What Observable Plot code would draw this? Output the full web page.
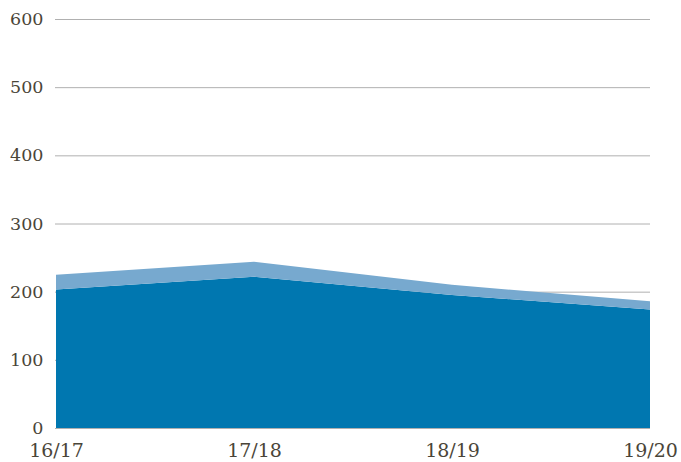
<!DOCTYPE html>
<html>
<head>
<meta charset="utf-8">
<script src="https://cdn.jsdelivr.net/npm/d3@7"></script>
<script src="https://cdn.jsdelivr.net/npm/@observablehq/plot@0.6"></script>
<style>
  body { margin: 0; background: #fff; }
  svg { font-family: "DejaVu Serif", "Liberation Serif", serif; }
</style>
</head>
<body>
<div id="chart"></div>
<script>
const years = ["16/17", "17/18", "18/19", "19/20"];
const seriesNames = ["A", "B"];
const seriesA = [203, 222, 195, 174];
const seriesB = [22, 22, 15, 12];
const yTicks = [0, 100, 200, 300, 400, 500, 600];
const colors = ["#0077b0", "#77a9cf"];

const data = [];
years.forEach((y, i) => {
  data.push({year: y, series: seriesNames[0], value: seriesA[i]});
  data.push({year: y, series: seriesNames[1], value: seriesB[i]});
});

const chart = Plot.plot({
  width: 681,
  height: 462,
  marginLeft: 55,
  marginRight: 31,
  marginTop: 19,
  marginBottom: 34,
  style: {fontSize: "17px", color: "#4a4538", background: "#fff"},
  x: {type: "point", domain: years, padding: 0, label: null},
  y: {domain: [0, 600], label: null},
  color: {domain: seriesNames, range: colors},
  marks: [
    Plot.gridY(yTicks, {stroke: "#b0b0b0", strokeOpacity: 1, strokeWidth: 1}),
    Plot.areaY(data, Plot.stackY({x: "year", y: "value", fill: "series", order: seriesNames})),
    Plot.axisY(yTicks, {tickSize: 0, tickPadding: 12, fontSize: 17.5, label: null}),
    Plot.axisX(years, {tickSize: 0, tickPadding: 15, fontSize: 19, label: null})
  ]
});
document.getElementById("chart").appendChild(chart);
</script>
</body>
</html>
